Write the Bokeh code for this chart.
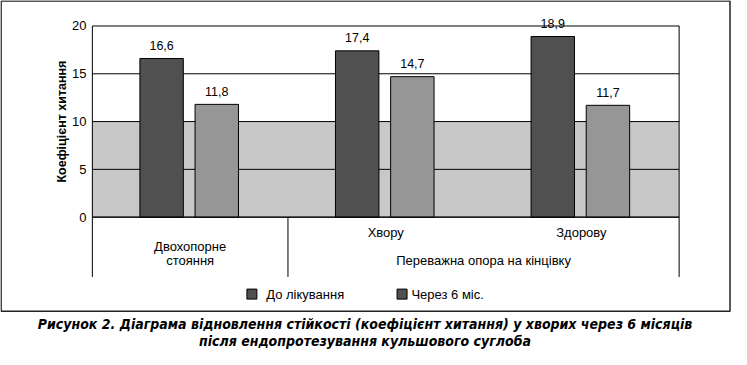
from bokeh.plotting import figure
from bokeh.models import Range1d
from bokeh.core.properties import value
from bokeh.embed import file_html
from bokeh.resources import INLINE
import math

# ---- data ----
categories = ["Двохопорне стояння", "Хвору", "Здорову"]
category_lines = [["Двохопорне", "стояння"], ["Хвору"], ["Здорову"]]
parent_label = "Переважна опора на кінцівку"
parent_first, parent_last = 1, 2
series_names = ["До лікування", "Через 6 міс."]
before = [16.6, 17.4, 18.9]
after = [11.8, 14.7, 11.7]
y_ticks = [0, 5, 10, 15, 20]
band_low, band_high = 0, 10
y_title = "Коефіцієнт хитання"
caption = [
    "Рисунок 2. Діаграма відновлення стійкості (коефіцієнт хитання) у хворих через 6 місяців",
    "після ендопротезування кульшового суглоба",
]

# ---- layout ----
W, H = 731, 349


def R(rx):  # reference x pixel -> figure pixel
    return (rx - 4) * (730.0 / 739.0)


def S(ry):  # reference y pixel -> figure pixel (from top)
    return (ry - 3) * (348.0 / 355.0)


X0 = R(97)
XS = (R(691) - R(97)) / 3.0
Y0 = S(224)
YS = (S(224) - S(29)) / 20.0


def dx(rx):
    return (R(rx) - X0) / XS


def dy(ry):
    return (Y0 - S(ry)) / YS


FONT = value("Liberation Sans")
DARK, LIGHT, BAND = "#505050", "#969696", "#c8c8c8"

p = figure(width=W, height=H, output_backend="svg", toolbar_location=None,
           x_range=Range1d(-X0 / XS, (W - X0) / XS),
           y_range=Range1d((Y0 - H) / YS, Y0 / YS),
           x_axis_location=None, y_axis_location=None, min_border=0)
p.grid.visible = False
p.outline_line_color = None
p.background_fill_color = "white"
p.border_fill_color = "white"

n = len(categories)
ymax = y_ticks[-1]

# outer box
p.quad(left=dx(4.6), right=dx(742.5), top=dy(3.6), bottom=dy(320),
       fill_color=None, line_color="#222222", line_width=1.5)

# grey band
p.quad(left=0, right=n, bottom=band_low, top=band_high,
       fill_color=BAND, line_color=None)

# grid lines
p.segment(x0=[0] * len(y_ticks), x1=[n] * len(y_ticks), y0=y_ticks, y1=y_ticks,
          line_color="black", line_width=1)
# plot frame sides
p.segment(x0=[0, n], x1=[0, n], y0=[0, 0], y1=[ymax, ymax],
          line_color="black", line_width=1)

# bars
w = 0.222
xc = [i + 0.5 for i in range(n)]
xb = [c - 0.146 for c in xc]
xa = [c + 0.136 for c in xc]
p.vbar(x=xb, top=before, bottom=0, width=w, fill_color=DARK, line_color="black", line_width=1)
p.vbar(x=xa, top=after, bottom=0, width=w, fill_color=LIGHT, line_color="black", line_width=1)

fmt = lambda v: f"{v:.1f}".replace(".", ",")
gap = 13.0 / YS
vals = before + after
p.text(x=xb + xa, y=[v + gap for v in vals], text=[fmt(v) for v in vals],
       text_align="center", text_baseline="alphabetic",
       text_font=FONT, text_font_size="12.5px", text_color="black")

# y tick labels
p.text(x=[0] * len(y_ticks), y=y_ticks, text=[str(t) for t in y_ticks],
       text_align="right", text_baseline="middle", x_offset=-6,
       text_font=FONT, text_font_size="13px", text_color="black")

# y title
p.text(x=[dx(66)], y=[ymax / 2], text=[y_title], angle=math.pi / 2,
       text_align="center", text_baseline="middle",
       text_font=FONT, text_font_size="12.5px", text_font_style="bold", text_color="black")

# category table lines
bottom_tab = dy(285)
p.segment(x0=[0, n], x1=[n, n], y0=[0, 0], y1=[0, bottom_tab], line_color="black", line_width=1)
p.segment(x0=[0, parent_first], x1=[0, parent_first], y0=[0, 0], y1=[bottom_tab, bottom_tab],
          line_color="black", line_width=1)

# category labels
cx, cy, ct = [], [], []
for i, lines in enumerate(category_lines):
    if len(lines) == 1:
        cx.append(i + 0.5); cy.append(dy(240)); ct.append(lines[0])
    else:
        for j, t in enumerate(lines):
            cx.append(i + 0.5); cy.append(dy(254 + 14 * j)); ct.append(t)
p.text(x=cx, y=cy, text=ct, text_align="center", text_baseline="middle",
       text_font=FONT, text_font_size="13px", text_color="black")
p.text(x=[(parent_first + parent_last + 1) / 2], y=[dy(268)], text=[parent_label],
       text_align="center", text_baseline="middle",
       text_font=FONT, text_font_size="13px", text_color="black")

# legend
lx = [dx(258.5), dx(410.5)]
ly = dy(302.5)
p.rect(x=lx, y=[ly, ly], width=10, height=10, width_units="screen", height_units="screen",
       fill_color=[DARK, DARK], line_color="black", line_width=1)
p.text(x=[dx(273), dx(420)], y=[ly, ly], text=series_names, text_align="left",
       text_baseline="middle", text_font=FONT, text_font_size="13px", text_color="black")

# caption
p.text(x=[dx(373), dx(373)], y=[dy(333), dy(350)], text=caption, text_align="center",
       text_baseline="middle", text_font=value("DejaVu Sans Condensed"),
       text_font_size="14px", text_font_style="bold italic", text_color="black")

open("out.html", "w").write(file_html(p, INLINE))
